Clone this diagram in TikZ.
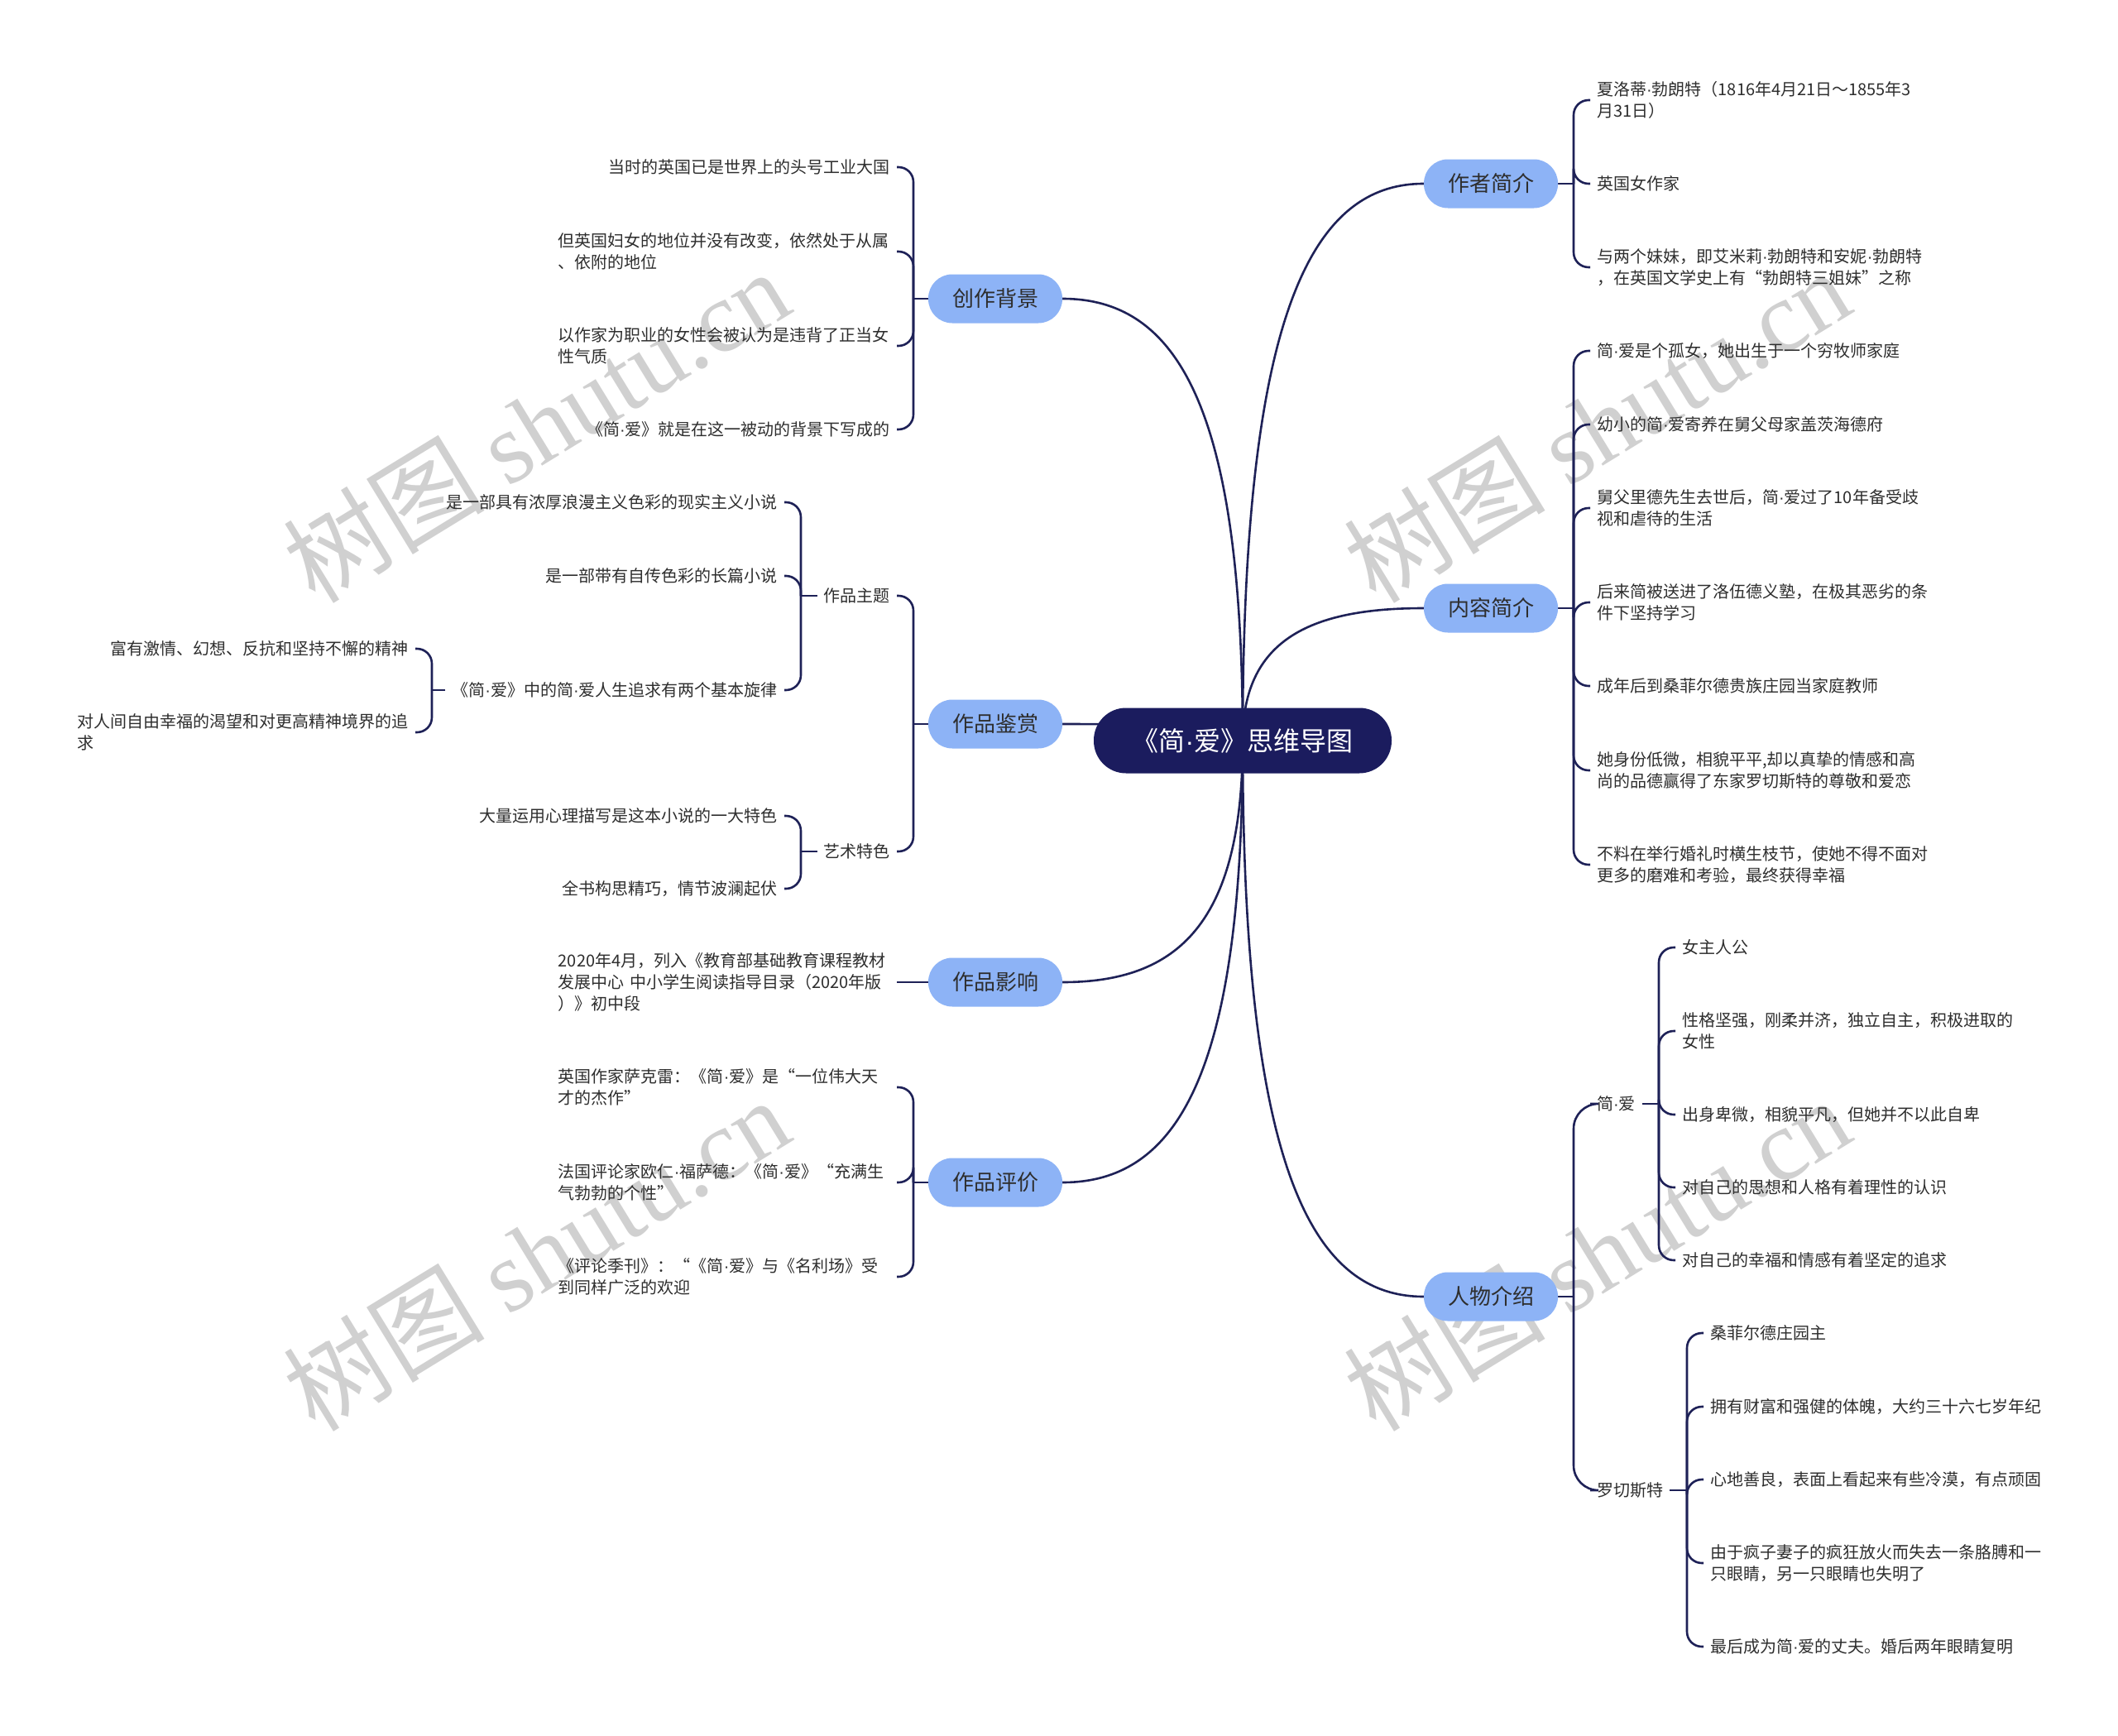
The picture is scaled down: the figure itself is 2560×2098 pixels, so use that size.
\documentclass[tikz,border=0pt]{standalone}
\usepackage{fontspec}
\setmainfont{Noto Sans CJK SC}
\newfontfamily\wmfont{Liberation Serif}
\newfontfamily\dotfont{Liberation Sans}
\newcommand{\md}{{\dotfont ·}}
\usetikzlibrary{backgrounds}

\definecolor{navy}{HTML}{1B1C5E}
\definecolor{linec}{HTML}{1E2157}
\definecolor{bluefill}{HTML}{8DB3F6}
\definecolor{txt}{HTML}{2E2E2E}
\definecolor{wmgray}{HTML}{D0D0D0}

\begin{document}
\begin{tikzpicture}[x=1pt, y=-1pt,
        root/.style={rectangle, rounded corners=39pt, fill=navy, text=white, minimum width=360pt, minimum height=79pt, font=\fontsize{32}{38}\selectfont},
        branch/.style={rectangle, rounded corners=29pt, fill=bluefill, text=txt, minimum width=162pt, minimum height=59pt, font=\fontsize{26}{30}\selectfont},
        leaf/.style={align=left, inner xsep=8pt, inner ysep=2pt, text=txt, font=\fontsize{20}{26}\selectfont},
        wrapl/.style={leaf, anchor=east, text width=401pt},
        wmark/.style={rotate=31.5, text=wmgray, font=\fontsize{122}{122}\selectfont},
        curve/.style={draw=linec, line width=2.6pt},
        link/.style={draw=linec, line width=2.6pt, rounded corners=18pt}
    ]
    \useasboundingbox (0,0) rectangle (2560,2098);

    % centre and main branches
    \node[root] (jane) at (1502,895) {《简\md 爱》思维导图};
    \node[branch] (zzjj) at (1802,222) {作者简介};
    \node[branch] (nrjj) at (1802,735) {内容简介};
    \node[branch] (rwjs) at (1802,1567) {人物介绍};
    \node[branch] (czbj) at (1203,361) {创作背景};
    \node[branch] (zpjs) at (1203,875) {作品鉴赏};
    \node[branch] (zpyx) at (1203,1187) {作品影响};
    \node[branch] (zppj) at (1203,1429) {作品评价};

    % spine points
    \coordinate (zzsp) at (1902,222);
    \coordinate (nrsp) at (1902,735);
    \coordinate (rwsp) at (1902,1567);
    \coordinate (jysp) at (2005,1334);
    \coordinate (lqsp) at (2039,1801);
    \coordinate (czsp) at (1104,361);
    \coordinate (jssp) at (1104,875);
    \coordinate (ztsp) at (968,720);
    \coordinate (yssp) at (968,1029);
    \coordinate (xlsp) at (522,834);
    \coordinate (pjsp) at (1104,1429);

    % 作者简介
    \node[leaf, anchor=west] (zz1) at (1922,121) {夏洛蒂\md 勃朗特（1816年4月21日～1855年3\\月31日）};
    \node[leaf, anchor=west] (zz2) at (1922,222) {英国女作家};
    \node[leaf, anchor=west] (zz3) at (1922,323) {与两个妹妹，即艾米莉\md 勃朗特和安妮\md 勃朗特\\，在英国文学史上有“勃朗特三姐妹”之称};

    % 内容简介
    \node[leaf, anchor=west] (nr1) at (1922,424) {简\md 爱是个孤女，她出生于一个穷牧师家庭};
    \node[leaf, anchor=west] (nr2) at (1922,513) {幼小的简\md 爱寄养在舅父母家盖茨海德府};
    \node[leaf, anchor=west] (nr3) at (1922,614) {舅父里德先生去世后，简\md 爱过了10年备受歧\\视和虐待的生活};
    \node[leaf, anchor=west] (nr4) at (1922,728) {后来简被送进了洛伍德义塾，在极其恶劣的条\\件下坚持学习};
    \node[leaf, anchor=west] (nr5) at (1922,829) {成年后到桑菲尔德贵族庄园当家庭教师};
    \node[leaf, anchor=west] (nr6) at (1922,931) {她身份低微，相貌平平,却以真挚的情感和高\\尚的品德赢得了东家罗切斯特的尊敬和爱恋};
    \node[leaf, anchor=west] (nr7) at (1922,1045) {不料在举行婚礼时横生枝节，使她不得不面对\\更多的磨难和考验，最终获得幸福};

    % 人物介绍
    \node[leaf, anchor=west] (jy) at (1922,1334) {简\md 爱};
    \node[leaf, anchor=west] (lqst) at (1922,1801) {罗切斯特};
    \node[leaf, anchor=west] (jy1) at (2025,1145) {女主人公};
    \node[leaf, anchor=west] (jy2) at (2025,1246) {性格坚强，刚柔并济，独立自主，积极进取的\\女性};
    \node[leaf, anchor=west] (jy3) at (2025,1347) {出身卑微，相貌平凡，但她并不以此自卑};
    \node[leaf, anchor=west] (jy4) at (2025,1435) {对自己的思想和人格有着理性的认识};
    \node[leaf, anchor=west] (jy5) at (2025,1523) {对自己的幸福和情感有着坚定的追求};
    \node[leaf, anchor=west] (lq1) at (2059,1611) {桑菲尔德庄园主};
    \node[leaf, anchor=west] (lq2) at (2059,1700) {拥有财富和强健的体魄，大约三十六七岁年纪};
    \node[leaf, anchor=west] (lq3) at (2059,1788) {心地善良，表面上看起来有些冷漠，有点顽固};
    \node[leaf, anchor=west] (lq4) at (2059,1889) {由于疯子妻子的疯狂放火而失去一条胳膊和一\\只眼睛，另一只眼睛也失明了};
    \node[leaf, anchor=west] (lq5) at (2059,1990) {最后成为简\md 爱的丈夫。婚后两年眼睛复明};

    % 创作背景
    \node[leaf, anchor=east] (cz1) at (1084,202) {当时的英国已是世界上的头号工业大国};
    \node[wrapl] (cz2) at (1084,304) {但英国妇女的地位并没有改变，依然处于从属\\、依附的地位};
    \node[wrapl] (cz3) at (1084,418) {以作家为职业的女性会被认为是违背了正当女\\性气质};
    \node[leaf, anchor=east] (cz4) at (1084,519) {《简\md 爱》就是在这一被动的背景下写成的};

    % 作品鉴赏
    \node[leaf, anchor=east] (zpzt) at (1084,720) {作品主题};
    \node[leaf, anchor=east] (ystc) at (1084,1029) {艺术特色};
    \node[leaf, anchor=east] (zt1) at (948,607) {是一部具有浓厚浪漫主义色彩的现实主义小说};
    \node[leaf, anchor=east] (zt2) at (948,696) {是一部带有自传色彩的长篇小说};
    \node[leaf, anchor=east] (zt3) at (948,834) {《简\md 爱》中的简\md 爱人生追求有两个基本旋律};
    \node[leaf, anchor=east] (xl1) at (502,784) {富有激情、幻想、反抗和坚持不懈的精神};
    \node[leaf, anchor=east] (xl2) at (502,885) {对人间自由幸福的渴望和对更高精神境界的追\\求};
    \node[leaf, anchor=east] (ys1) at (948,986) {大量运用心理描写是这本小说的一大特色};
    \node[leaf, anchor=east] (ys2) at (948,1074) {全书构思精巧，情节波澜起伏};

    % 作品影响, 作品评价
    \node[wrapl] (yx1) at (1084,1187) {2020年4月，列入《教育部基础教育课程教材\\发展中心 中小学生阅读指导目录（2020年版\\）》初中段};
    \node[wrapl] (pj1) at (1084,1314) {英国作家萨克雷：《简\md 爱》是“一位伟大天\\才的杰作”};
    \node[wrapl] (pj2) at (1084,1429) {法国评论家欧仁\md 福萨德：《简\md 爱》“充满生\\气勃勃的个性”};
    \node[wrapl] (pj3) at (1084,1543) {《评论季刊》：“《简\md 爱》与《名利场》受\\到同样广泛的欢迎};

    \begin{scope}[on background layer]
    \fill[white] (0,0) rectangle (2560,2098);
    \node[wmark] (wm1) at (648,514) {树图 {\wmfont shutu.cn}};
    \node[wmark] (wm2) at (1930,514) {树图 {\wmfont shutu.cn}};
    \node[wmark] (wm3) at (648,1515) {树图 {\wmfont shutu.cn}};
    \node[wmark] (wm4) at (1930,1515) {树图 {\wmfont shutu.cn}};

    % centre to branches
    \draw[curve] (jane.center) .. controls +(0,-505) and +(-140,0) .. (zzjj.west);
    \draw[curve] (jane.center) .. controls +(0,-120) and +(-140,0) .. (nrjj.west);
    \draw[curve] (jane.center) .. controls +(0,505) and +(-140,0) .. (rwjs.west);
    \draw[curve] (jane.center) .. controls +(0,-400) and +(140,0) .. (czbj.east);
    \draw[curve] (jane.center) .. controls +(0,-15) and +(140,0) .. (zpjs.east);
    \draw[curve] (jane.center) .. controls +(0,220) and +(140,0) .. (zpyx.east);
    \draw[curve] (jane.center) .. controls +(0,400) and +(140,0) .. (zppj.east);

    % brackets
    \draw[link] (zzjj.east) -- (zzsp);
    \draw[link] (zzsp) |- (zz1.west);
    \draw[link] (zzsp) |- (zz2.west);
    \draw[link] (zzsp) |- (zz3.west);

    \draw[link] (nrjj.east) -- (nrsp);
    \draw[link] (nrsp) |- (nr1.west);
    \draw[link] (nrsp) |- (nr2.west);
    \draw[link] (nrsp) |- (nr3.west);
    \draw[link] (nrsp) |- (nr4.west);
    \draw[link] (nrsp) |- (nr5.west);
    \draw[link] (nrsp) |- (nr6.west);
    \draw[link] (nrsp) |- (nr7.west);

    \draw[link] (rwjs.east) -- (rwsp);
    \draw[link, rounded corners=30pt] (rwsp) |- (jy.west);
    \draw[link, rounded corners=30pt] (rwsp) |- (lqst.west);
    \draw[link] (jy.east) -- (jysp);
    \draw[link] (jysp) |- (jy1.west);
    \draw[link] (jysp) |- (jy2.west);
    \draw[link] (jysp) |- (jy3.west);
    \draw[link] (jysp) |- (jy4.west);
    \draw[link] (jysp) |- (jy5.west);
    \draw[link] (lqst.east) -- (lqsp);
    \draw[link] (lqsp) |- (lq1.west);
    \draw[link] (lqsp) |- (lq2.west);
    \draw[link] (lqsp) |- (lq3.west);
    \draw[link] (lqsp) |- (lq4.west);
    \draw[link] (lqsp) |- (lq5.west);

    \draw[link] (czbj.west) -- (czsp);
    \draw[link] (czsp) |- (cz1.east);
    \draw[link] (czsp) |- (cz2.east);
    \draw[link] (czsp) |- (cz3.east);
    \draw[link] (czsp) |- (cz4.east);

    \draw[link] (zpjs.west) -- (jssp);
    \draw[link] (jssp) |- (zpzt.east);
    \draw[link] (jssp) |- (ystc.east);
    \draw[link] (zpzt.west) -- (ztsp);
    \draw[link] (ztsp) |- (zt1.east);
    \draw[link] (ztsp) |- (zt2.east);
    \draw[link] (ztsp) |- (zt3.east);
    \draw[link] (zt3.west) -- (xlsp);
    \draw[link] (xlsp) |- (xl1.east);
    \draw[link] (xlsp) |- (xl2.east);
    \draw[link] (ystc.west) -- (yssp);
    \draw[link] (yssp) |- (ys1.east);
    \draw[link] (yssp) |- (ys2.east);

    \draw[link] (zpyx.west) -- (yx1.east);

    \draw[link] (zppj.west) -- (pjsp);
    \draw[link] (pjsp) |- (pj1.east);
    \draw[link] (pjsp) |- (pj2.east);
    \draw[link] (pjsp) |- (pj3.east);
    \end{scope}
\end{tikzpicture}
\end{document}
